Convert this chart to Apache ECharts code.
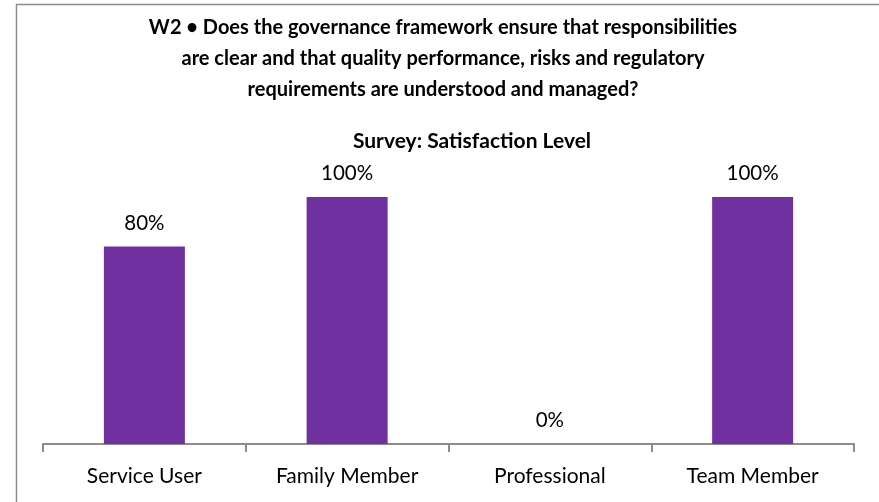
<!DOCTYPE html>
<html>
<head>
<meta charset="utf-8">
<script src="https://cdn.jsdelivr.net/npm/echarts@6/dist/echarts.min.js"></script>
<style>
  html, body { margin: 0; padding: 0; background: #fff; }
  #echarts { width: 879px; height: 502px; }
</style>
</head>
<body>
<div id="echarts"></div>
<script>
// 数据
let categories = ['Service User', 'Family Member', 'Professional', 'Team Member']
let satisfaction = [80, 100, 0, 100]

let titleLines = [
  'W2 • Does the governance framework ensure that responsibilities',
  'are clear and that quality performance, risks and regulatory',
  'requirements are understood and managed?'
]
let subTitle = 'Survey: Satisfaction Level'

let fontName = 'Lato'

let myChart = echarts.init(document.getElementById('echarts'))

let options = {
  backgroundColor: '#fff',
  animation: false,
  // 外框
  graphic: [
    {
      type: 'rect',
      shape: { x: 16.5, y: 4.5, width: 900, height: 600 },
      style: { fill: 'none', stroke: '#8c8c8c', lineWidth: 1.5 },
      silent: true
    }
  ],
  title: [
    {
      text: titleLines.join('\n'),
      left: 438,
      top: 7,
      textAlign: 'center',
      textStyle: {
        fontFamily: fontName,
        fontWeight: 'bold',
        fontSize: 20,
        lineHeight: 31,
        color: '#000'
      }
    },
    {
      text: subTitle,
      left: 467,
      top: 126,
      textAlign: 'center',
      textStyle: {
        fontFamily: fontName,
        fontWeight: 'bold',
        fontSize: 21,
        color: '#000'
      }
    }
  ],
  grid: {
    left: 43,
    right: 25,
    top: 197,
    bottom: 58
  },
  xAxis: {
    type: 'category',
    data: categories,
    boundaryGap: true,
    axisLine: { lineStyle: { color: '#8c8c8c', width: 2 } },
    axisTick: { show: true, alignWithLabel: false, length: 8, lineStyle: { color: '#8c8c8c', width: 2 } },
    axisLabel: {
      margin: 22,
      fontFamily: fontName,
      fontSize: 21,
      color: '#000'
    }
  },
  yAxis: {
    type: 'value',
    min: 0,
    max: 100,
    show: false
  },
  series: [
    {
      type: 'bar',
      data: satisfaction,
      barWidth: 81,
      itemStyle: { color: '#7030A0' },
      label: {
        show: true,
        position: 'top',
        distance: 13,
        formatter: p => p.value + '%',
        fontFamily: fontName,
        fontSize: 20.5,
        color: '#000'
      }
    }
  ]
}

myChart.setOption(options)
</script>
</body>
</html>
